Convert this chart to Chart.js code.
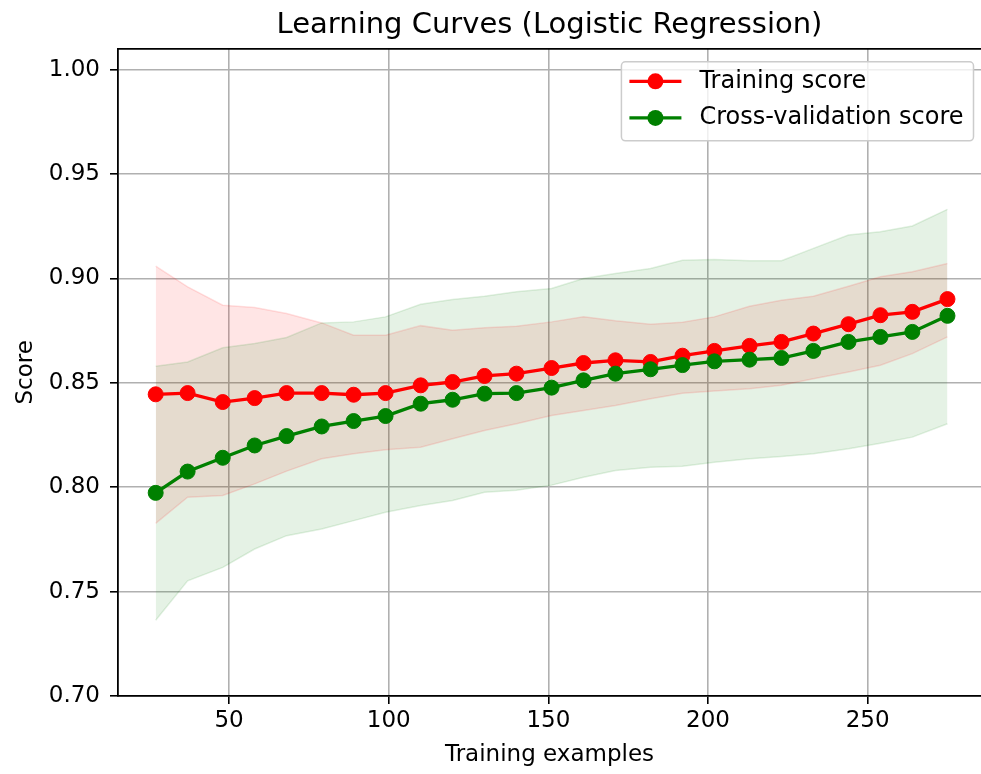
<!DOCTYPE html>
<html>
<head>
<meta charset="utf-8">
<script src="https://cdn.jsdelivr.net/npm/chart.js@4.4.1/dist/chart.umd.min.js"></script>
<style>
    html, body { margin: 0; padding: 0; background: #fff; overflow: hidden; }
    #wrap { width: 981px; height: 774px; position: relative; }
</style>
</head>
<body>
<div id="wrap"><canvas id="lcChart"></canvas></div>
<script>
// ====== DATA ======
const trainSizes = [27, 37, 48, 58, 68, 79, 89, 99, 110, 120, 130, 140, 151,
    161, 171, 182, 192, 202, 213, 223, 233, 244, 254, 264, 275]

const trainMean = [0.8445, 0.8451, 0.8408, 0.8427, 0.8451, 0.8451, 0.8443,
    0.8451, 0.8488, 0.8504, 0.8533, 0.8544, 0.8571, 0.8595, 0.8608, 0.8600,
    0.8630, 0.8653, 0.8677, 0.8696, 0.8736, 0.8781, 0.8824, 0.8840, 0.8901]
const trainUpper = [0.9059, 0.8960, 0.8872, 0.8861, 0.8832, 0.8787, 0.8728,
    0.8728, 0.8774, 0.8752, 0.8764, 0.8771, 0.8792, 0.8816, 0.8797, 0.8781,
    0.8790, 0.8816, 0.8867, 0.8896, 0.8915, 0.8963, 0.9008, 0.9032, 0.9072]
const trainLower = [0.7827, 0.7952, 0.7960, 0.8016, 0.8077, 0.8136, 0.8160,
    0.8179, 0.8192, 0.8232, 0.8272, 0.8304, 0.8344, 0.8368, 0.8392, 0.8424,
    0.8450, 0.8461, 0.8472, 0.8488, 0.8520, 0.8552, 0.8584, 0.8640, 0.8720]

const cvMean = [0.7973, 0.8075, 0.8141, 0.8200, 0.8245, 0.8291, 0.8317,
    0.8341, 0.8400, 0.8419, 0.8448, 0.8451, 0.8477, 0.8512, 0.8544, 0.8565,
    0.8585, 0.8603, 0.8611, 0.8619, 0.8653, 0.8696, 0.8720, 0.8744, 0.8821]
const cvUpper = [0.8579, 0.8600, 0.8668, 0.8688, 0.8717, 0.8787, 0.8792,
    0.8816, 0.8876, 0.8899, 0.8915, 0.8936, 0.8952, 0.9000, 0.9024, 0.9048,
    0.9087, 0.9091, 0.9085, 0.9085, 0.9144, 0.9208, 0.9224, 0.9251, 0.9331]
const cvLower = [0.7363, 0.7552, 0.7616, 0.7704, 0.7768, 0.7800, 0.7840,
    0.7880, 0.7912, 0.7936, 0.7976, 0.7985, 0.8010, 0.8048, 0.8080, 0.8096,
    0.8100, 0.8120, 0.8136, 0.8147, 0.8160, 0.8184, 0.8211, 0.8240, 0.8304]

const xTicks = [50, 100, 150, 200, 250]
const yTicks = [0.7, 0.75, 0.8, 0.85, 0.9, 0.95, 1.0]

// ====== HELPERS ======
const toPoints = (ys) => trainSizes.map((x, i) => ({ x: x, y: ys[i] }))

const lineSet = (label, ys, color, order) => ({
    label: label,
    data: toPoints(ys),
    borderColor: color,
    backgroundColor: color,
    borderWidth: 3.3,
    pointRadius: 7.5,
    pointBorderWidth: 1,
    pointBackgroundColor: color,
    pointBorderColor: color,
    tension: 0,
    fill: false,
    order: order,
    inLegend: true,
})

const bandSet = (ys, rgb, fillTo, order) => ({
    label: '',
    data: toPoints(ys),
    borderColor: `rgba(${rgb},0.12)`,
    backgroundColor: `rgba(${rgb},0.1)`,
    borderWidth: 1.5,
    pointRadius: 0,
    tension: 0,
    fill: fillTo,
    order: order,
})

// no auto padding on the x axes, plot runs to the right edge
const noPad = (s) => {
    s.paddingLeft = 0
    s.paddingRight = 0
}

// legend box drawn inside the axes (upper right), matplotlib style
const boxLegend = {
    id: 'boxLegend',
    afterDraw(chart) {
        const ctx = chart.ctx
        const area = chart.chartArea
        const items = chart.data.datasets.filter((ds) => ds.inLegend)
        ctx.save()
        ctx.font = '24px "DejaVu Sans"'
        let maxW = 0
        items.forEach((it) => { maxW = Math.max(maxW, ctx.measureText(it.label).width) })
        const textOff = 78
        const w = textOff + maxW + 10
        const h = 79
        const right = area.right - 7.5
        const left = right - w
        const top = area.top + 13

        ctx.beginPath()
        ctx.roundRect(left, top, w, h, 4)
        ctx.fillStyle = 'rgba(255,255,255,0.8)'
        ctx.fill()
        ctx.lineWidth = 1.5
        ctx.strokeStyle = '#cccccc'
        ctx.stroke()

        items.forEach((it, i) => {
            const y = top + 19.5 + i * 36.6
            ctx.beginPath()
            ctx.moveTo(left + 8, y)
            ctx.lineTo(left + 60, y)
            ctx.lineWidth = 3.3
            ctx.strokeStyle = it.borderColor
            ctx.stroke()
            ctx.beginPath()
            ctx.arc(left + 34, y, 8, 0, Math.PI * 2)
            ctx.fillStyle = it.borderColor
            ctx.fill()
            ctx.fillStyle = '#000'
            ctx.textAlign = 'left'
            ctx.textBaseline = 'middle'
            ctx.fillText(it.label, left + textOff, y)
        })
        ctx.restore()
    },
}

Chart.defaults.font.family = '"DejaVu Sans"'
Chart.defaults.font.size = 23
Chart.defaults.color = '#000'

// ====== CHART ======
const ctx = document.getElementById('lcChart').getContext('2d')
const lcChart = new Chart(ctx, {
    type: 'line',
    data: {
        datasets: [
            lineSet('Training score', trainMean, '#ff0000', 1),
            lineSet('Cross-validation score', cvMean, '#008000', 0),
            bandSet(cvUpper, '0,128,0', false, 2),
            bandSet(cvLower, '0,128,0', '-1', 2),
            bandSet(trainUpper, '255,0,0', false, 3),
            bandSet(trainLower, '255,0,0', '-1', 3),
        ],
    },
    options: {
        responsive: true,
        maintainAspectRatio: false,
        animation: false,
        events: [],
        layout: { padding: 0, autoPadding: false },
        scales: {
            x: {
                type: 'linear',
                min: 15.2,
                max: 285.5,
                afterBuildTicks: (s) => { s.ticks = xTicks.map((v) => ({ value: v })) },
                afterFit: (s) => { s.height = 78; noPad(s) },
                ticks: { padding: 3, maxRotation: 0, font: { size: 23 } },
                grid: { color: '#b0b0b0', lineWidth: 1.6, tickLength: 8, tickColor: '#000', tickWidth: 1.6 },
                border: { display: true, color: '#000', width: 1.8 },
                title: { display: true, text: 'Training examples', font: { size: 23 }, padding: { top: 0, bottom: 5 } },
            },
            xTop: {
                type: 'linear',
                position: 'top',
                min: 15.2,
                max: 285.5,
                ticks: { display: false },
                grid: { display: false, drawTicks: false },
                border: { display: true, color: '#000', width: 1.8 },
                afterFit: (s) => { s.height = 0; noPad(s) },
            },
            y: {
                min: 0.7,
                max: 1.01,
                afterBuildTicks: (s) => { s.ticks = yTicks.map((v) => ({ value: v })) },
                afterFit: (s) => { s.width = 118 },
                ticks: { padding: 10, callback: (v) => v.toFixed(2), font: { size: 23 } },
                grid: { color: '#b0b0b0', lineWidth: 1.6, tickLength: 8, tickColor: '#000', tickWidth: 1.6 },
                border: { display: true, color: '#000', width: 1.8 },
                title: { display: true, text: 'Score', font: { size: 23 }, padding: { top: 12, bottom: 0 } },
            },
        },
        plugins: {
            legend: { display: false },
            tooltip: { enabled: false },
            filler: { drawTime: 'beforeDatasetsDraw' },
            title: {
                display: true,
                text: 'Learning Curves (Logistic Regression)',
                fullSize: false,
                font: { size: 29, weight: 'normal' },
                color: '#000',
                padding: { top: 8, bottom: 6 },
            },
        },
    },
    plugins: [boxLegend],
})
</script>
</body>
</html>
